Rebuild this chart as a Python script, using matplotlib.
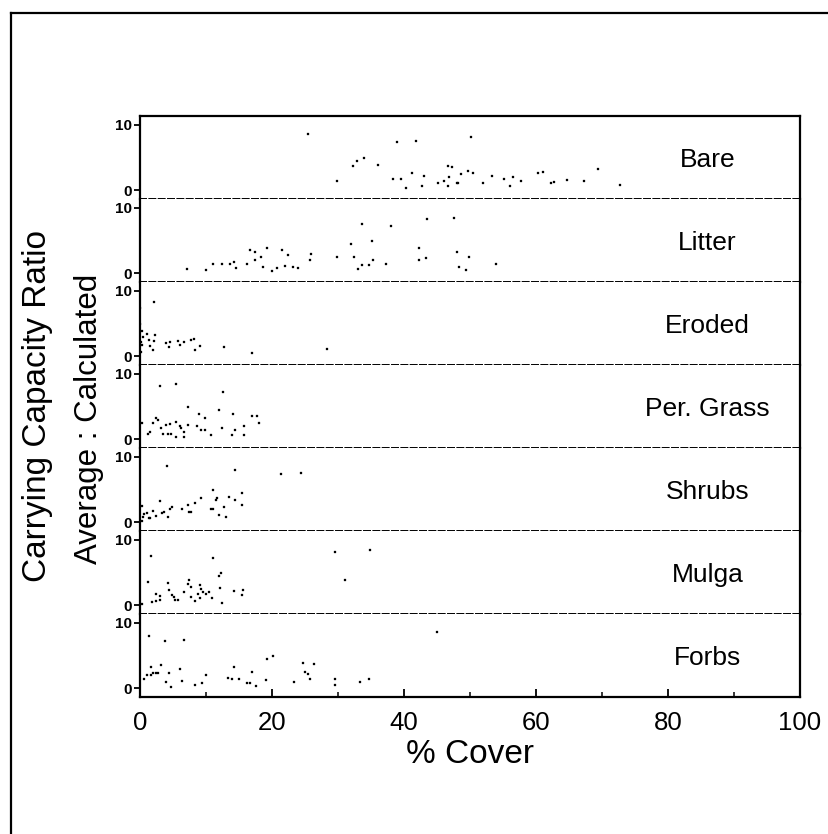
import matplotlib
matplotlib.use("Agg")
import matplotlib.pyplot as plt
from matplotlib.lines import Line2D
from matplotlib.ticker import MultipleLocator

plt.rcParams['font.family'] = ['Liberation Sans', 'DejaVu Sans']

# ---------------- data ----------------
panel_names = ["Bare", "Litter", "Eroded", "Per. Grass", "Shrubs", "Mulga", "Forbs"]

bare_x = [25.5, 29.8, 32.2, 32.9, 33.9, 36.0, 38.4, 39.0, 39.6, 40.3, 41.2, 41.8, 42.7, 43.1,
          45.1, 46.0, 46.6, 46.8, 46.7, 47.3, 48.1, 50.2, 48.2, 48.7, 49.7, 50.5, 51.9, 53.3,
          55.2, 56.0, 56.5, 57.7, 60.3, 61.0, 62.2, 62.8, 64.7, 67.2, 69.4, 72.7]
bare_y = [8.5, 1.5, 3.7, 4.5, 5.0, 3.9, 1.8, 7.3, 1.7, 0.4, 2.7, 7.5, 0.7, 2.2,
          1.1, 1.4, 3.7, 2.0, 0.7, 3.5, 1.1, 8.1, 1.2, 2.5, 2.9, 2.6, 1.2, 2.2,
          1.7, 0.6, 2.1, 1.5, 2.6, 2.8, 1.2, 1.3, 1.6, 1.4, 3.2, 0.8]

litter_x = [7.1, 10.0, 11.0, 12.4, 13.7, 14.2, 14.5, 16.2, 16.6, 17.4, 17.5, 18.4, 18.6, 19.2,
            20.0, 20.8, 21.5, 22.0, 22.5, 23.2, 24.0, 25.8, 25.9, 29.8, 32.0, 32.5, 33.0, 33.7,
            33.7, 34.7, 35.2, 35.3, 37.3, 38.0, 42.3, 42.3, 43.3, 43.5, 47.6, 48.1, 48.4, 49.9,
            49.4, 54.0]
litter_y = [0.7, 0.5, 1.5, 1.5, 1.5, 1.7, 0.8, 1.4, 3.5, 3.2, 2.1, 2.5, 1.0, 3.9,
            0.4, 0.8, 3.6, 1.1, 2.8, 1.0, 0.9, 2.0, 2.9, 2.5, 4.5, 2.5, 0.7, 7.5,
            1.3, 1.3, 4.9, 2.0, 1.5, 7.2, 3.8, 2.1, 2.3, 8.2, 8.4, 3.3, 1.0, 2.5,
            0.5, 1.5]

eroded_x = [0.05, 0.0, 0.25, 0.15, 0.25, 0.1, 0.5, 1.0, 1.4, 1.5, 2.1, 1.9, 2.1, 2.2, 4.0,
            4.4, 4.6, 5.8, 6.0, 6.6, 7.7, 8.2, 8.3, 9.1, 12.7, 16.9, 28.3]
eroded_y = [7.4, 5.0, 3.8, 2.2, 1.7, 0.7, 3.0, 3.4, 2.5, 1.6, 8.3, 1.0, 2.4, 3.3, 2.1,
            1.5, 2.2, 2.3, 1.8, 2.2, 2.5, 2.7, 1.0, 1.6, 1.5, 0.5, 1.1]

grass_x = [0.25, 1.2, 1.5, 2.0, 2.4, 2.8, 3.0, 3.2, 3.5, 3.9, 4.3, 4.7, 4.6, 5.4, 5.4, 5.5,
           6.1, 6.2, 6.6, 6.7, 7.2, 7.3, 8.6, 9.0, 9.3, 9.9, 9.8, 10.8, 12.0, 12.6, 12.5,
           14.1, 14.0, 14.4, 15.7, 15.8, 16.9, 17.8, 18.1]
grass_y = [2.5, 0.9, 1.2, 2.5, 3.3, 3.0, 8.1, 1.7, 0.9, 2.2, 0.9, 0.8, 2.3, 2.7, 8.4, 0.4,
           2.0, 1.7, 1.2, 0.4, 2.2, 4.9, 2.1, 3.8, 1.4, 3.2, 1.5, 0.7, 4.5, 7.2, 1.7,
           3.9, 0.6, 1.4, 0.7, 2.0, 3.5, 3.6, 2.5]

shrubs_x = [0.35, 0.25, 0.4, 0.65, 1.0, 1.3, 1.5, 2.0, 2.4, 3.1, 3.3, 3.7, 4.1, 4.3, 4.6,
            4.8, 6.3, 7.2, 7.5, 7.8, 8.3, 9.2, 10.8, 11.1, 11.1, 11.5, 11.6, 12.0, 12.7,
            13.0, 13.5, 14.4, 14.4, 15.4, 15.5, 21.3, 24.4]
shrubs_y = [2.5, 0.2, 0.9, 1.3, 1.5, 0.6, 0.6, 1.8, 1.0, 3.3, 1.5, 1.6, 8.5, 0.9, 2.1,
            2.4, 2.1, 2.7, 1.6, 1.6, 2.9, 3.7, 2.0, 2.1, 5.0, 3.4, 3.7, 1.1, 2.4,
            0.9, 3.8, 8.0, 3.4, 4.5, 2.7, 7.3, 7.5]

mulga_x = [0.35, 1.2, 1.7, 1.8, 2.4, 2.4, 3.0, 3.0, 4.3, 4.4, 4.8, 5.2, 5.3, 5.8, 6.6, 7.2,
           7.4, 7.7, 7.8, 8.3, 8.8, 9.1, 9.2, 9.1, 9.5, 10.0, 10.4, 10.9, 11.1, 11.9, 12.2,
           12.1, 12.4, 14.2, 15.6, 15.5, 29.6, 31.0, 34.9]
mulga_y = [0.2, 3.5, 7.5, 0.5, 1.8, 0.6, 1.5, 0.8, 3.4, 2.3, 1.6, 1.3, 0.8, 0.9, 2.1, 3.3,
           3.8, 2.8, 1.3, 0.6, 1.7, 3.1, 2.5, 1.1, 2.1, 1.7, 2.1, 1.1, 7.2, 4.5, 4.9,
           2.6, 0.4, 2.2, 2.3, 1.6, 8.1, 3.8, 8.4]

forbs_x = [0.65, 1.0, 1.4, 1.6, 1.6, 2.0, 2.4, 2.8, 3.2, 3.8, 4.0, 4.4, 4.7, 6.0, 6.4, 6.6,
           8.3, 9.4, 10.0, 13.3, 14.0, 14.3, 15.0, 16.2, 16.7, 17.0, 17.6, 19.1, 19.3, 20.2,
           23.3, 24.7, 25.0, 25.4, 25.8, 26.4, 29.6, 29.6, 33.3, 34.7, 45.0]
forbs_y = [1.5, 2.1, 8.0, 2.1, 3.3, 2.4, 2.3, 2.3, 3.6, 7.2, 1.0, 2.3, 0.2, 2.9, 1.1, 7.4,
           0.5, 0.8, 2.0, 1.6, 1.4, 3.3, 1.4, 0.8, 0.8, 2.5, 0.4, 1.3, 4.5, 4.9,
           1.0, 3.8, 2.5, 2.2, 1.5, 3.7, 1.5, 0.5, 1.0, 1.4, 8.5]

panel_x = [bare_x, litter_x, eroded_x, grass_x, shrubs_x, mulga_x, forbs_x]
panel_y = [bare_y, litter_y, eroded_y, grass_y, shrubs_y, mulga_y, forbs_y]

x_ticks = [0, 20, 40, 60, 80, 100]
y_ticks = [0, 10]

# ---------------- figure ----------------
W, H = 829, 834
fig = plt.figure(figsize=(W / 100, H / 100), dpi=100)

left, right = 140 / W, 800 / W
top, bottom = 116 / H, 697 / H
n = len(panel_names)
ph = (bottom - top) / n

axes = []
for i, name in enumerate(panel_names):
    ax = fig.add_axes([left, 1 - top - (i + 1) * ph, right - left, ph])
    axes.append(ax)
    ax.plot(panel_x[i], panel_y[i], linestyle='none', marker='s', ms=1.7,
            mec='black', mfc='black', mew=0.2)
    ax.set_xlim(0, 100)
    ax.set_ylim(-1.3, 11.3)
    ax.set_yticks(y_ticks)
    ax.set_yticklabels([str(t) for t in y_ticks], fontsize=11, fontweight='bold')
    ax.tick_params(axis='y', direction='out', length=4, width=1.3, pad=2)
    for s in ['left', 'right']:
        ax.spines[s].set_linewidth(1.6)
    if i > 0:
        ax.spines['top'].set_visible(False)
    else:
        ax.spines['top'].set_linewidth(1.6)
    if i < n - 1:
        ax.spines['bottom'].set_linestyle((0, (3.1, 1.7)))
        ax.spines['bottom'].set_linewidth(1.4)
        ax.tick_params(axis='x', which='both', bottom=False, labelbottom=False)
    else:
        ax.spines['bottom'].set_linewidth(1.6)
        ax.set_xticks(x_ticks)
        ax.xaxis.set_minor_locator(MultipleLocator(10))
        ax.set_xticklabels([str(t) for t in x_ticks], fontsize=18.5)
        ax.tick_params(axis='x', which='major', direction='in', length=6, width=1.3, pad=10)
        ax.tick_params(axis='x', which='minor', direction='in', length=3.5, width=1.1)
        ax.set_xlabel("% Cover", fontsize=24, labelpad=3)
    ax.text(0.86, 0.47, name, transform=ax.transAxes, ha='center', va='center',
            fontsize=19)

# y-axis label (two lines)
fig.text(38 / W, 1 - 406 / H, "Carrying Capacity Ratio", rotation=90,
         ha='center', va='center', fontsize=24)
fig.text(89 / W, 1 - 419 / H, "Average : Calculated", rotation=90,
         ha='center', va='center', fontsize=22.5)

# outer frame (left and top edges)
fx, fy = 11.5 / W, 1 - 13 / H
fig.add_artist(Line2D([fx, fx], [0, fy], transform=fig.transFigure,
                      color='black', lw=1.6))
fig.add_artist(Line2D([fx, 1], [fy, fy], transform=fig.transFigure,
                      color='black', lw=1.6))

fig.savefig("out.png", dpi=100)
